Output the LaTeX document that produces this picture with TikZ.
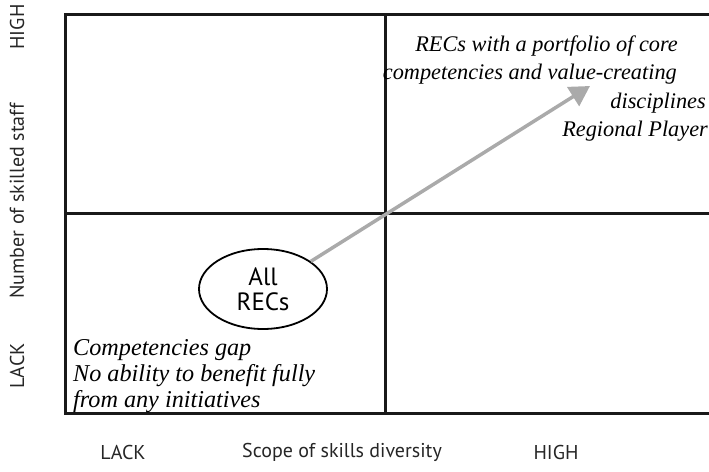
\documentclass[tikz,border=0pt]{standalone}
\usepackage{fontspec}
\setmainfont{Liberation Serif}
\newfontfamily\labfont{PT Sans}
\usetikzlibrary{arrows.meta,shapes.geometric}
\definecolor{arrowgrey}{RGB}{170,170,170}
\begin{document}
\begin{tikzpicture}[x=1pt,y=-1pt,
  frame/.style={line width=3pt,draw=black!90},
  quadtext/.style={font=\fontsize{24.2}{26}\selectfont\itshape,inner sep=0pt},
  toptext/.style={font=\fontsize{22.3}{26}\selectfont\itshape,inner sep=0pt,anchor=base east},
  axislab/.style={font=\labfont\fontsize{20}{24}\selectfont,inner sep=0pt,text=black!85},
  oval/.style={ellipse,draw,line width=1.8pt,minimum width=128pt,minimum height=80pt,
    align=center,font=\labfont\fontsize{25}{25}\selectfont,inner sep=0pt}]
\useasboundingbox (0,0) rectangle (709,471);
\begin{scope}
\clip (0,0) rectangle (709,471);
\draw[frame] (65,14) rectangle (715,413);
\draw[frame] (385,14) -- (385,413);
\draw[frame] (65,213) -- (715,213);
\end{scope}
% ellipse
\node[oval] (all) at (263,289) {All\\RECs};
\coordinate (tip) at (590,86);
\draw[arrowgrey,line width=3.5pt,-{Triangle[length=20pt,width=22pt]}] (all.30) -- (tip);
% top-right text
\node[toptext] (t1) at (678,51) {RECs with a portfolio of core};
\node[toptext] (t2) at (677,79) {competencies and value-creating};
\node[toptext] (t3) at (706,108) {disciplines};
\node[toptext] (t4) at (708,136) {Regional Player};
% bottom-left text
\node[quadtext,anchor=base west] (b1) at (73,355) {Competencies gap};
\node[quadtext,anchor=base west] (b2) at (73,381) {No ability to benefit fully};
\node[quadtext,anchor=base west] (b3) at (73,407) {from any initiatives};
% axis labels
\node[axislab] (xl) at (123,452) {LACK};
\node[axislab] (xt) at (342,452) {Scope of skills diversity};
\node[axislab] (xh) at (556,452) {HIGH};
\node[axislab,rotate=90] (yh) at (17,27) {HIGH};
\node[axislab,rotate=90] (yt) at (17,201) {Number of skilled staff};
\node[axislab,rotate=90] (yl) at (17,366) {LACK};
\end{tikzpicture}
\end{document}
